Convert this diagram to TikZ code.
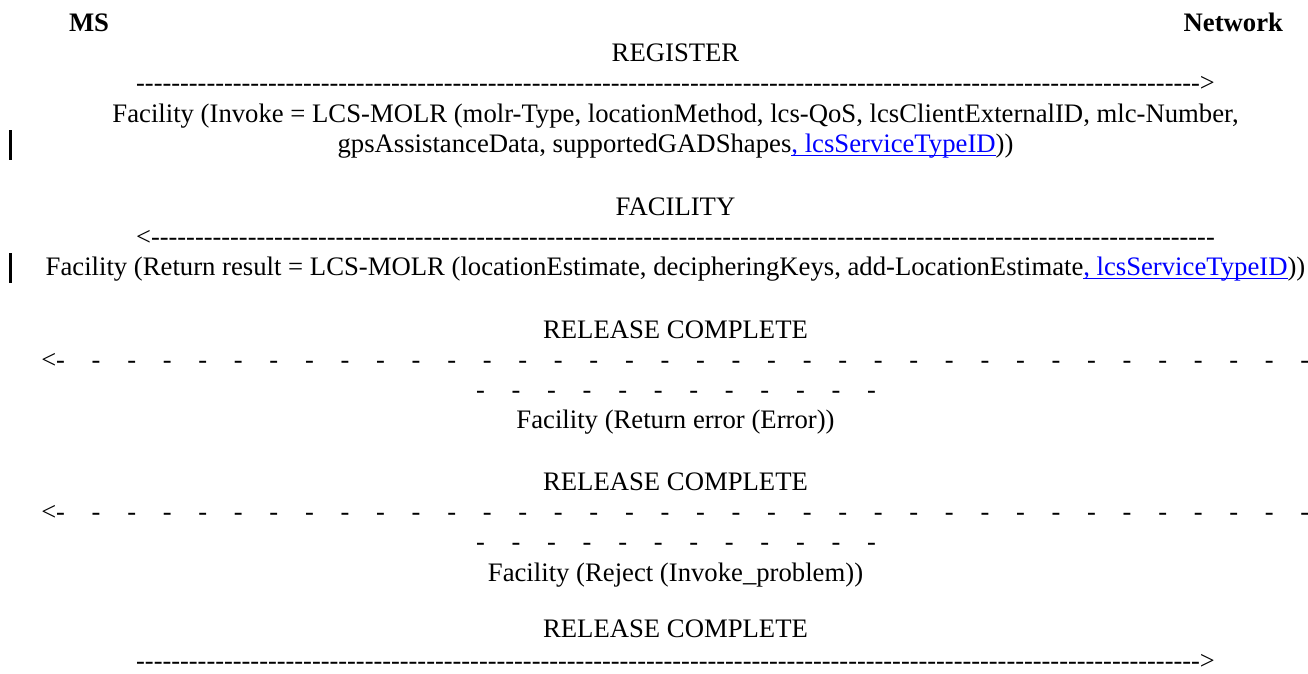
\documentclass[tikz,border=0pt]{standalone}
\usepackage{fontspec}
\newfontfamily\lib{Liberation Serif}
\usepackage{xcolor}
\definecolor{linkblue}{RGB}{0,0,255}
\ExplSyntaxOn
\NewDocumentCommand\Rep{mm}{\prg_replicate:nn{#1}{#2}}
\ExplSyntaxOff
\newcommand\F{\lib\fontsize{26.7pt}{30pt}\selectfont}
\newcommand\FD{\lib\fontsize{26.4pt}{30pt}\selectfont}
\newcommand\lnk[1]{\begingroup\color{linkblue}\setbox0\hbox{#1}\rlap{\rule[-3.9pt]{\wd0}{1.3pt}}\box0\endgroup}
\newcommand\dgap{\hspace*{26.76pt}}
\begin{document}
\begin{tikzpicture}[x=1pt,y=-1pt,
  bt/.style={inner sep=0pt,outer sep=0pt,font=\F},
  tc/.style={bt,anchor=base},
  dl/.style={inner sep=0pt,outer sep=0pt,font=\FD},
  dc/.style={dl,anchor=base},
  bar/.style={fill=black}]
\useasboundingbox (0,0) rectangle (1308,674);
% headers
\node[bt,anchor=base west,font=\F\bfseries] (ms) at (69,32) {MS};
\node[bt,anchor=base east,font=\F\bfseries] (nw) at (1283,32) {Network};
% REGISTER
\node[tc] (reg) at (675.5,62) {REGISTER};
\node[dc] (a1) at (675.5,92) {\Rep{121}{-}>};
\node[tc] (inv1) at (675.5,122) {Facility (Invoke = LCS-MOLR (molr-Type, locationMethod, lcs-QoS, lcsClientExternalID, mlc-Number,};
\node[tc] (inv2) at (675.5,152) {gpsAssistanceData, supportedGADShapes\lnk{, lcsServiceTypeID}))};
\fill[bar] (9,130) rectangle (12,160);
% FACILITY
\node[tc] (fac) at (675.5,215) {FACILITY};
\node[dc] (a2) at (675.5,245) {<\Rep{121}{-}};
\node[tc] (rr) at (675.5,275) {Facility (Return result = LCS-MOLR (locationEstimate, decipheringKeys, add-LocationEstimate\lnk{, lcsServiceTypeID}))};
\fill[bar] (9,253) rectangle (12,283);
% RELEASE COMPLETE 1
\node[tc] (rc1) at (675.5,338) {RELEASE COMPLETE};
\node[dl,anchor=base west] (r1a) at (41.3,368) {<-\Rep{35}{\dgap-}};
\node[dc] (r1b) at (676,398) {-\Rep{11}{\dgap-}};
\node[tc] (re) at (675.5,428) {Facility (Return error (Error))};
% RELEASE COMPLETE 2
\node[tc] (rc2) at (675.5,490) {RELEASE COMPLETE};
\node[dl,anchor=base west] (r2a) at (41.3,520) {<-\Rep{35}{\dgap-}};
\node[dc] (r2b) at (676,550) {-\Rep{11}{\dgap-}};
\node[tc] (rj) at (675.5,581) {Facility (Reject (Invoke\_problem))};
% RELEASE COMPLETE 3
\node[tc] (rc3) at (675.5,637) {RELEASE COMPLETE};
\node[dc] (a3) at (675.5,669) {\Rep{121}{-}>};
\end{tikzpicture}
\end{document}
